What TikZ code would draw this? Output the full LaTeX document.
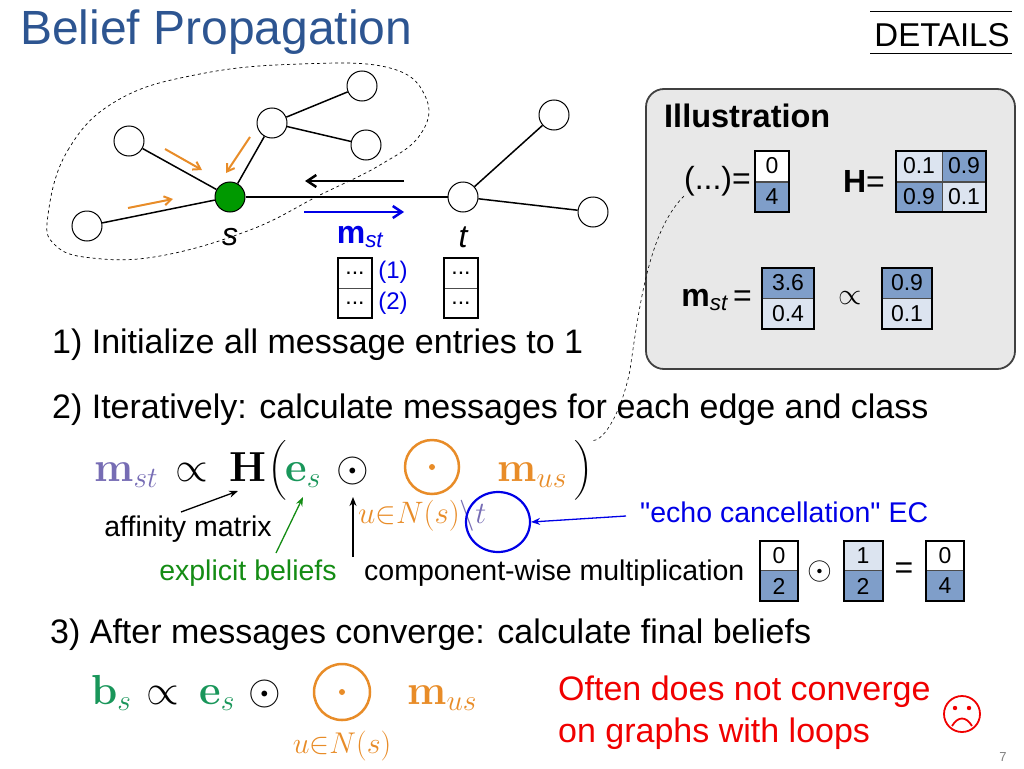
\RequirePackage{fix-cm}
\documentclass[tikz,border=0pt]{standalone}
\usepackage{amsmath}
\usepackage[no-math]{fontspec}
\setmainfont{Liberation Sans}
\usetikzlibrary{arrows.meta,shapes.geometric}
\definecolor{titleblue}{RGB}{45,85,145}
\definecolor{mpurple}{RGB}{118,108,180}
\definecolor{egreen}{RGB}{25,150,90}
\definecolor{dgreen}{RGB}{20,140,20}
\definecolor{orng}{RGB}{232,140,40}
\definecolor{bblue}{RGB}{0,0,230}
\definecolor{rred}{RGB}{240,0,0}
\definecolor{vblue}{RGB}{127,158,201}
\definecolor{vlight}{RGB}{220,228,240}
\definecolor{boxgray}{RGB}{232,232,232}
\tikzset{
  gnode/.style={circle,draw,line width=1pt,minimum size=30pt,inner sep=0pt,fill=white},
  gedge/.style={line width=1.5pt},
  oarr/.style={orng,line width=2pt,-{Straight Barb[length=7pt,width=9pt]}},
  txt/.style={anchor=base west,inner sep=0pt,font=\fontsize{34}{36}\selectfont},
  cell/.style={draw=black!70,line width=0.5pt,inner sep=0pt,font=\fontsize{23}{24}\selectfont},
  outl/.style={draw=black,line width=1.2pt},
  anno/.style={line width=1.3pt,-{Stealth[length=9pt,width=7pt]}},
  fm/.style={inner sep=0pt,font=\fontsize{42}{46}\selectfont},
  lbl/.style={inner sep=0pt,font=\fontsize{28.5}{30}\selectfont},
}
\begin{document}
\begin{tikzpicture}[x=1pt,y=-1pt]
\useasboundingbox (0,0) rectangle (1024,768);
% title
\node[anchor=base west,inner sep=0pt,text=titleblue,font=\fontsize{48}{50}\selectfont] (title) at (20,45) {Belief Propagation};
\node[anchor=base,inner sep=0pt,font=\fontsize{33}{36}\selectfont] (details) at (942,46) {DETAILS};
\draw[line width=0.8pt] (870,11) -- (1012,11) (870,53) -- (1012,53);
% blob
\draw[dashed,line width=0.7pt] plot[smooth cycle,tension=0.7] coordinates {(48,215) (68,150) (118,100) (200,74) (300,64) (390,68) (426,98) (420,135) (380,165) (320,195) (250,230) (160,256) (92,258) (55,245)};
% graph
\node[gnode] (n1) at (87,226) {};
\node[gnode] (n2) at (129,141) {};
\node[gnode] (n3) at (272,123) {};
\node[gnode] (n4) at (362,86) {};
\node[gnode] (n5) at (366,145) {};
\node[gnode] (tu) at (554,115) {};
\node[gnode] (tr) at (593,212) {};
\node[gnode,fill=green!60!black] (s) at (230,197) {};
\node[gnode] (t) at (463,197) {};
\foreach \a/\b in {s/n1,s/n2,s/n3,n3/n4,n3/n5,s/t,t/tu,t/tr} \draw[gedge] (\a) -- (\b);
\coordinate (o1a) at (128,208); \coordinate (o1b) at (173,199);
\coordinate (o2a) at (165,149); \coordinate (o2b) at (202,170);
\coordinate (o3a) at (250,137); \coordinate (o3b) at (226,173);
\draw[oarr] (o1a) -- (o1b);
\draw[oarr] (o2a) -- (o2b);
\draw[oarr] (o3a) -- (o3b);
\coordinate (ka) at (404,181); \coordinate (kb) at (305,181);
\draw[line width=2.5pt,-{Straight Barb[length=9pt,width=12pt]}] (ka) -- (kb);
\coordinate (ba) at (304,212); \coordinate (bb) at (404,212);
\draw[bblue,line width=2.5pt,-{Straight Barb[length=9pt,width=12pt]}] (ba) -- (bb);
\node[font=\fontsize{32}{33}\selectfont\itshape] (sl) at (230,237) {s};
\node[font=\fontsize{32}{33}\selectfont\itshape] (tl) at (463,237) {t};
\node[text=bblue,font=\fontsize{32}{33}\selectfont] (ml) at (360,237) {\textbf{m}\textsubscript{\itshape st}};
% message boxes
\node[cell,minimum width=34pt,minimum height=30pt] (ma) at (355,273) {...};
\node[cell,minimum width=34pt,minimum height=30pt] (mb) at (355,303) {...};
\draw[outl] (338,258) rectangle (372,318);
\node[cell,minimum width=34pt,minimum height=30pt] (ta) at (461,273) {...};
\node[cell,minimum width=34pt,minimum height=30pt] (tb) at (461,303) {...};
\draw[outl] (444,258) rectangle (478,318);
\node[text=bblue,font=\fontsize{24}{26}\selectfont] (l1) at (393,272) {(1)};
\node[text=bblue,font=\fontsize{24}{26}\selectfont] (l2) at (393,303) {(2)};
% lines of text
\node[txt] (step1) at (52,353) {1) Initialize all message entries to 1};
\node[txt] (step2) at (52,418) {2) Iteratively: calculate messages for each edge and class};
\node[txt] (step3) at (50,643) {3) After messages converge: calculate final beliefs};
% illustration box
\draw[fill=boxgray,draw=black!75,line width=1.8pt,rounded corners=18pt] (646,89) rectangle (1015,369);
\node[anchor=base west,inner sep=0pt,font=\fontsize{32.5}{34}\selectfont\bfseries] (ill) at (664,127) {Illustration};
\node[anchor=east,inner sep=0pt,font=\fontsize{32}{33}\selectfont] (dots) at (751,181) {(...)=};
\node[cell,fill=white,minimum width=34pt,minimum height=31pt] (va) at (772,166) {0};
\node[cell,fill=vblue,minimum width=34pt,minimum height=30pt] (vb) at (772,197) {4};
\draw[outl] (755,151) rectangle (789,212);
\node[anchor=east,inner sep=0pt,font=\fontsize{32}{33}\selectfont] (Hl) at (885,181) {\textbf{H}=};
\node[cell,fill=vlight,minimum width=46pt,minimum height=31pt] (h11) at (919,166) {0.1};
\node[cell,fill=vblue,minimum width=44pt,minimum height=31pt] (h12) at (964,166) {0.9};
\node[cell,fill=vblue,minimum width=46pt,minimum height=30pt] (h21) at (919,197) {0.9};
\node[cell,fill=vlight,minimum width=44pt,minimum height=30pt] (h22) at (964,197) {0.1};
\draw[outl] (896,151) rectangle (986,212);
\node[anchor=east,inner sep=0pt,font=\fontsize{32}{33}\selectfont] (mst) at (752,300) {\textbf{m}\textsubscript{\itshape st}\,=};
\node[cell,fill=vblue,minimum width=52pt,minimum height=30pt] (m1) at (788,283) {3.6};
\node[cell,fill=vlight,minimum width=52pt,minimum height=31pt] (m2) at (788,314) {0.4};
\draw[outl] (762,268) rectangle (814,329);
\node[font=\fontsize{30}{30}\selectfont] (prop) at (850,298) {$\propto$};
\node[cell,fill=vblue,minimum width=50pt,minimum height=30pt] (p1) at (907,283) {0.9};
\node[cell,fill=vlight,minimum width=50pt,minimum height=31pt] (p2) at (907,314) {0.1};
\draw[outl] (882,268) rectangle (932,329);
% formula 1
\node[fm,text=mpurple,anchor=base west] (f1m) at (94,481) {$\mathbf{m}_{st}$};
\node[fm,anchor=base] (f1p) at (192,481) {$\propto$};
\node[fm,anchor=base west] (f1H) at (229,481) {$\mathbf{H}$};
\node[fm,anchor=base] (f1lp) at (278,481) {$\big($};
\node[fm,text=egreen,anchor=base west] (f1e) at (285,481) {$\mathbf{e}_{s}$};
\node[fm,anchor=base] (f1d) at (353,481) {$\odot$};
\node[circle,draw=orng,line width=2.5pt,minimum size=54pt,inner sep=0pt] (f1o) at (432,467) {};
\fill[orng] (f1o) circle (3pt);
\node[fm,text=orng,anchor=base west] (f1mu) at (497,481) {$\mathbf{m}_{us}$};
\node[fm,anchor=base] (f1rp) at (584,481) {$\big)$};
\node[anchor=base west,inner sep=0pt,font=\fontsize{31}{33}\selectfont] (f1sub) at (358,523) {\color{orng}$u{\in}N(s)$\color{mpurple}$\backslash t$};
\draw[dashed,line width=0.6pt] (dots.south west) .. controls (650,230) and (640,300) .. (630,370) .. controls (622,410) and (605,440) .. (f1rp.north east);
\node[draw=bblue,line width=2.2pt,ellipse,minimum width=64pt,minimum height=60pt] (ec) at (498,522) {};
\node[lbl,anchor=base west,text=bblue] (ect) at (640,522) {\textquotedbl echo cancellation\textquotedbl{} EC};
\coordinate (eca) at (626,516);
\draw[bblue,anno] (eca) -- (ec.east);
\node[lbl,anchor=base] (aff) at (188,536) {affinity matrix};
\node[lbl,anchor=base,text=dgreen] (expl) at (248,580) {explicit beliefs};
\node[lbl,anchor=base west] (comp) at (364,580) {component-wise multiplication};
\coordinate (affa) at (181,512);
\coordinate (expa) at (276,553);
\coordinate (cmpa) at (353,557);
\draw[anno] (affa) -- (238,491);
\draw[anno,dgreen] (expa) -- (303,497);
\draw[anno] (cmpa) -- (353,497);
% small vectors
\node[cell,fill=white,minimum width=38pt,minimum height=30pt] (a1) at (779,556) {0};
\node[cell,fill=vblue,minimum width=38pt,minimum height=31pt] (a2) at (779,586) {2};
\draw[outl] (760,541) rectangle (798,601);
\node[font=\fontsize{32}{32}\selectfont] (od) at (820,571) {$\odot$};
\node[cell,fill=vlight,minimum width=39pt,minimum height=30pt] (b1) at (863,556) {1};
\node[cell,fill=vblue,minimum width=39pt,minimum height=31pt] (b2) at (863,586) {2};
\draw[outl] (844,541) rectangle (883,601);
\node[font=\fontsize{32}{32}\selectfont] (eq) at (904,571) {=};
\node[cell,fill=white,minimum width=38pt,minimum height=30pt] (c1) at (945,556) {0};
\node[cell,fill=vblue,minimum width=38pt,minimum height=31pt] (c2) at (945,586) {4};
\draw[outl] (926,541) rectangle (964,601);
% formula 2
\node[fm,text=egreen,anchor=base west] (f2b) at (91,704) {$\mathbf{b}_{s}$};
\node[fm,anchor=base] (f2p) at (163,704) {$\propto$};
\node[fm,text=egreen,anchor=base west] (f2e) at (199,704) {$\mathbf{e}_{s}$};
\node[fm,anchor=base] (f2d) at (265,704) {$\odot$};
\node[circle,draw=orng,line width=2.5pt,minimum size=56pt,inner sep=0pt] (f2o) at (342,692) {};
\fill[orng] (f2o) circle (3pt);
\node[fm,text=orng,anchor=base west] (f2mu) at (407,704) {$\mathbf{m}_{us}$};
\node[anchor=base,inner sep=0pt,text=orng,font=\fontsize{30}{32}\selectfont] (f2sub) at (342,753) {$u{\in}N(s)$};
% red text
\node[anchor=base west,inner sep=0pt,text=rred,font=\fontsize{34}{36}\selectfont] (often) at (558,700) {Often does not converge};
\node[anchor=base west,inner sep=0pt,text=rred,font=\fontsize{34}{36}\selectfont] (loops) at (558,742) {on graphs with loops};
\node[circle,draw=rred,line width=1.8pt,minimum size=36pt,inner sep=0pt] (sad) at (962,714) {};
\fill[rred] (955,708) circle (2.2pt) (969,708) circle (2.2pt);
\draw[rred,line width=1.8pt] (952,726) .. controls (958,716) and (966,716) .. (972,726);
\node[text=black!50,font=\fontsize{13}{14}\selectfont] (pg) at (1003,757) {7};
\end{tikzpicture}
\end{document}
